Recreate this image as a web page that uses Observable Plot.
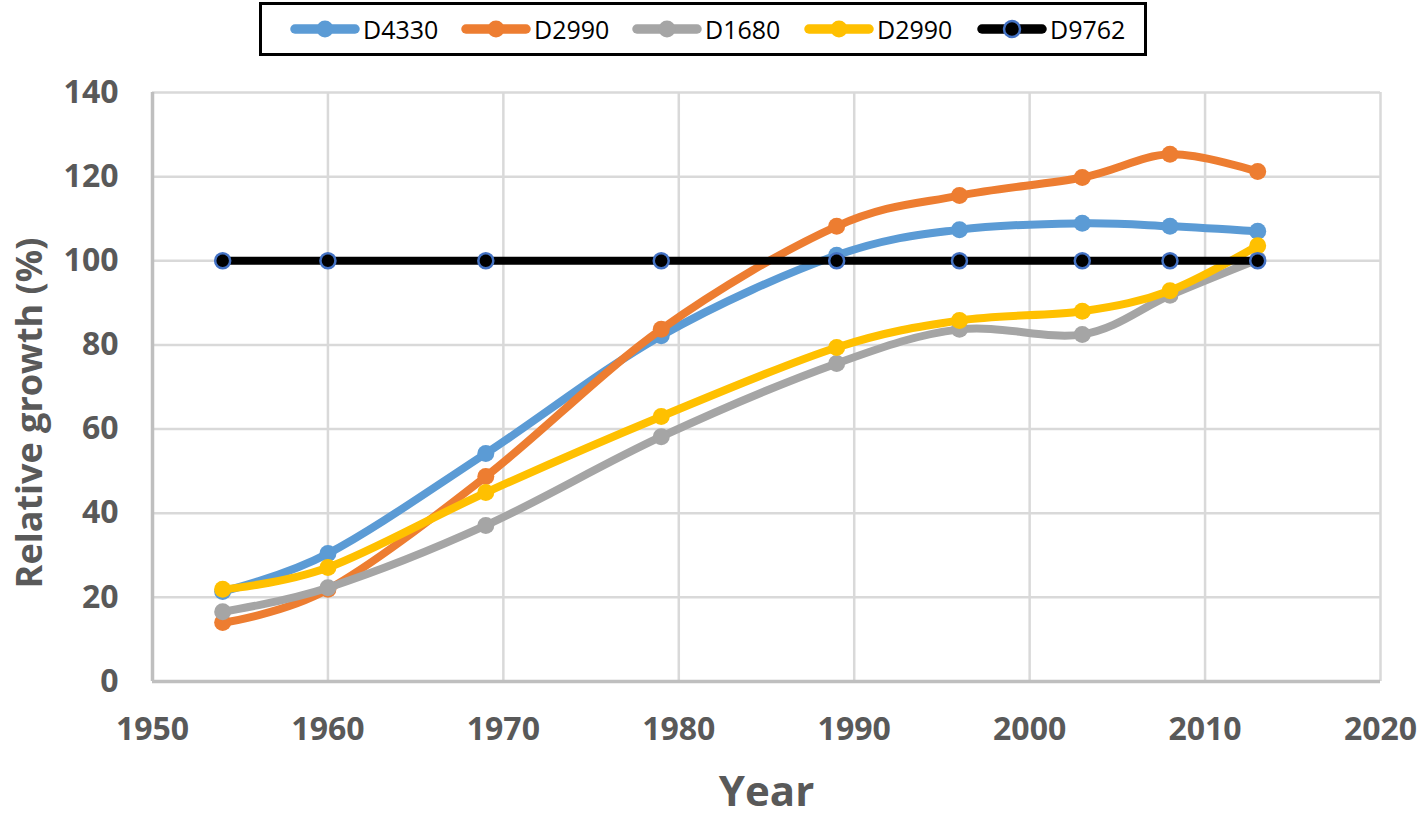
<!DOCTYPE html>
<html>
<head>
<meta charset="utf-8">
<script src="https://cdn.jsdelivr.net/npm/d3@7"></script>
<script src="https://cdn.jsdelivr.net/npm/@observablehq/plot@0.6"></script>
<style>
  html, body { margin: 0; padding: 0; background: #fff; }
  #wrap { position: relative; width: 1421px; height: 821px; overflow: hidden; }
  #legend { position: absolute; left: 259px; top: 2px; width: 888px; height: 54px; border: 3px solid #000; box-sizing: border-box; }
  .item { position: absolute; top: 0; height: 48px; display: flex; align-items: center; }
  .item span { font-family: "Open Sans", sans-serif; font-size: 25px; color: #000; margin-left: 2px; }
  #chart { position: absolute; left: 0; top: 58px; }
</style>
</head>
<body>
<div id="wrap">
  <div id="legend"></div>
  <div id="chart"></div>
</div>
<script>
const years = [1954, 1960, 1969, 1979, 1989, 1996, 2003, 2008, 2013];
const seriesNames = ["D4330", "D2990", "D1680", "D2990", "D9762"];
const seriesColors = ["#5b9bd5", "#ed7d31", "#a5a5a5", "#ffc000", "#000000"];
const d4330 = [21.4, 30.4, 54.2, 82.2, 101.3, 107.4, 108.9, 108.2, 107.0];
const d2990a = [14.0, 21.9, 48.7, 83.7, 108.2, 115.5, 119.8, 125.3, 121.2];
const d1680 = [16.6, 22.3, 37.1, 58.2, 75.6, 83.7, 82.5, 91.8, 100.3];
const d2990b = [21.9, 27.1, 44.9, 63.0, 79.4, 85.8, 88.0, 92.9, 103.6];
const d9762 = [100, 100, 100, 100, 100, 100, 100, 100, 100];
const xTicks = [1950, 1960, 1970, 1980, 1990, 2000, 2010, 2020];
const yTicks = [0, 20, 40, 60, 80, 100, 120, 140];
const xTitle = "Year";
const yTitle = "Relative growth (%)";

const allValues = [d4330, d2990a, d1680, d2990b, d9762];
const series = allValues.map((vals, i) => ({
  name: seriesNames[i],
  color: seriesColors[i],
  data: years.map((y, j) => ({year: y, value: vals[j]}))
}));

// Legend
const legend = document.getElementById("legend");
const legendX = [27, 198, 369, 541, 714];
series.forEach((s, i) => {
  const div = document.createElement("div");
  div.className = "item";
  div.style.left = legendX[i] + "px";
  const isBlack = i === 4;
  div.innerHTML = `<svg width="72" height="30"><line x1="6" y1="15" x2="66" y2="15" stroke="${s.color}" stroke-width="9.5" stroke-linecap="round"/>` +
    (isBlack ? `<circle cx="36" cy="15" r="8" fill="#000" stroke="#4472c4" stroke-width="2.5"/>`
             : `<circle cx="36" cy="15" r="8.5" fill="${s.color}"/>`) +
    `</svg><span>${s.name}</span>`;
  legend.appendChild(div);
});

const marks = [
  Plot.gridX(xTicks, {stroke: "#d9d9d9", strokeOpacity: 1, strokeWidth: 2.5}),
  Plot.gridY(yTicks, {stroke: "#d9d9d9", strokeOpacity: 1, strokeWidth: 2.5}),
  Plot.ruleX([1950], {stroke: "#bfbfbf", strokeWidth: 3.5}),
  Plot.ruleY([0], {stroke: "#bfbfbf", strokeWidth: 3.5}),
  Plot.axisX(xTicks, {tickSize: 0, tickPadding: 36, fontSize: 32, fontWeight: "bold", fill: "#595959", tickFormat: d => String(d), label: null}),
  Plot.axisY(yTicks, {tickSize: 0, tickPadding: 34, fontSize: 32, fontWeight: "bold", fill: "#595959", label: null})
];
series.forEach((s, i) => {
  marks.push(Plot.line(s.data, {x: "year", y: "value", stroke: s.color, strokeWidth: 8, curve: "cardinal", tension: 0, strokeLinecap: "round", strokeLinejoin: "round"}));
  if (i === 4) {
    marks.push(Plot.dot(s.data, {x: "year", y: "value", r: 7.5, fill: "#000", stroke: "#4472c4", strokeWidth: 2.5}));
  } else {
    marks.push(Plot.dot(s.data, {x: "year", y: "value", r: 8.5, fill: s.color, stroke: "none"}));
  }
});
marks.push(Plot.text([xTitle], {frameAnchor: "bottom", text: d => d, dy: 111, fontSize: 42, fontWeight: "bold", fill: "#595959", lineAnchor: "middle", textAnchor: "middle"}));
marks.push(Plot.text([yTitle], {frameAnchor: "left", text: d => d, rotate: -90, dx: -122, dy: 26, fontSize: 36, fontWeight: "bold", fill: "#595959", lineAnchor: "middle", textAnchor: "middle"}));

const chart = Plot.plot({
  width: 1421,
  height: 763,
  marginLeft: 152,
  marginRight: 41,
  marginTop: 34,
  marginBottom: 140,
  x: {domain: [1950, 2020]},
  y: {domain: [0, 140]},
  style: {fontFamily: "'Open Sans', sans-serif", background: "#fff", overflow: "visible"},
  marks
});
document.getElementById("chart").appendChild(chart);
</script>
</body>
</html>
